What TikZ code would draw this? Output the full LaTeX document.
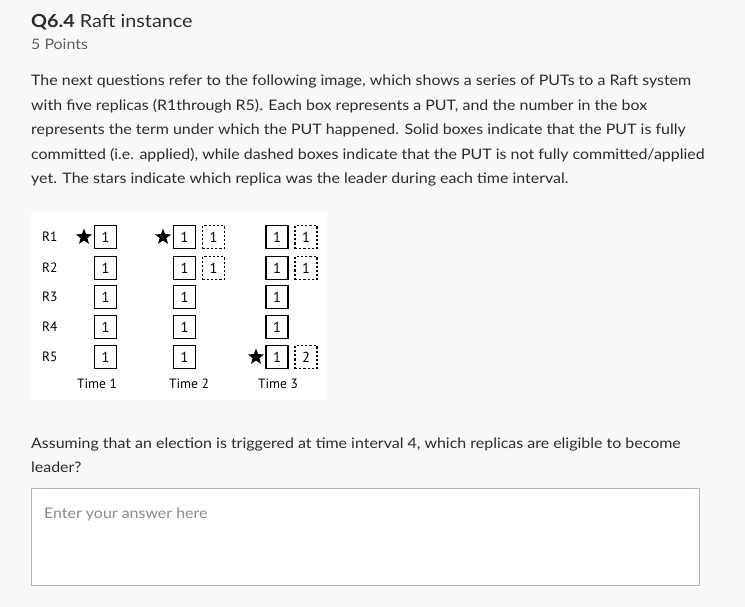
\documentclass[tikz,border=0pt]{standalone}
\usepackage{fontspec}
\usepackage{graphicx}
\setmainfont{Lato}
\newfontfamily\figfont{PT Sans}
\usetikzlibrary{shapes.geometric}
\newcommand\hs[1]{\scalebox{1.1}[1]{#1}}
\definecolor{bg}{HTML}{F8F8FA}
\definecolor{txt}{HTML}{2B2B2B}
\definecolor{sub}{HTML}{5F5F5F}
\definecolor{ph}{HTML}{8A8A8A}
\definecolor{bord}{HTML}{AEB6C2}
\tikzset{
  body/.style={anchor=base west,inner sep=0pt,text=txt,font=\fontsize{14.5}{16}\selectfont},
  rlab/.style={anchor=west,inner sep=0pt,font=\figfont\fontsize{13.5}{15}\selectfont},
  tlab/.style={inner sep=0pt,font=\figfont\fontsize{13.5}{15}\selectfont},
  sbox/.style={draw,line width=1.3pt,minimum width=22pt,minimum height=23pt,inner sep=0pt,font=\figfont\fontsize{14.5}{15}\selectfont},
  dbox/.style={sbox,dash pattern=on 2.2pt off 2pt},
  leader/.style={star,star points=5,star point ratio=2.4,fill=black,inner sep=0pt,minimum size=17pt}
}
\begin{document}
\begin{tikzpicture}[x=1pt,y=-1pt]
\fill[bg] (0,0) rectangle (745,607);
\useasboundingbox (0,0) rectangle (745,607);
\node[body,font=\fontsize{18}{20}\selectfont] (title) at (31,28) {\hs{\textbf{Q6.4} Raft instance}};
\node[body,text=sub] (pts) at (31,50) {\hs{5 Points}};
\node[body] (l1) at (31,86) {\hs{The next questions refer to the following image, which shows a series of PUTs to a Raft system}};
\node[body] (l2) at (31,110.5) {\hs{with five replicas (R1through R5). Each box represents a PUT, and the number in the box}};
\node[body] (l3) at (31,135) {\hs{represents the term under which the PUT happened. Solid boxes indicate that the PUT is fully}};
\node[body] (l4) at (31,159.5) {\hs{committed (i.e. applied), while dashed boxes indicate that the PUT is not fully committed/applied}};
\node[body] (l5) at (31,184) {\hs{yet. The stars indicate which replica was the leader during each time interval.}};
% figure
\fill[white] (31,213) rectangle (327,400);
\foreach \i/\y in {1/237,2/268,3/297,4/327,5/357}{
  \node[rlab] (r\i) at (42,\y) {R\i};
  \node[sbox] (a\i) at (105.5,\y) {1};
  \node[sbox] (b\i) at (184.5,\y) {1};
  \node[sbox] (c\i) at (277,\y) {1};
}
\node[dbox] (b1d) at (213.5,237) {1};
\node[dbox] (b2d) at (213.5,268) {1};
\node[dbox] (c1d) at (306,237) {1};
\node[dbox] (c2d) at (306,268) {1};
\node[dbox] (c5d) at (306,357) {2};
\node[leader] (s1) at (84,237) {};
\node[leader] (s2) at (163,237) {};
\node[leader] (s3) at (256,357) {};
\node[tlab] (t1) at (97,384) {Time 1};
\node[tlab] (t2) at (189,384) {Time 2};
\node[tlab] (t3) at (278,384) {Time 3};
% question
\node[body] (q1) at (31,448) {\hs{Assuming that an election is triggered at time interval 4, which replicas are eligible to become}};
\node[body] (q2) at (31,472.5) {\hs{leader?}};
\draw[bord,fill=white] (31.5,488.5) rectangle (699,585);
\node[body,text=ph] (ph) at (44,518) {\hs{Enter your answer here}};
\end{tikzpicture}
\end{document}
